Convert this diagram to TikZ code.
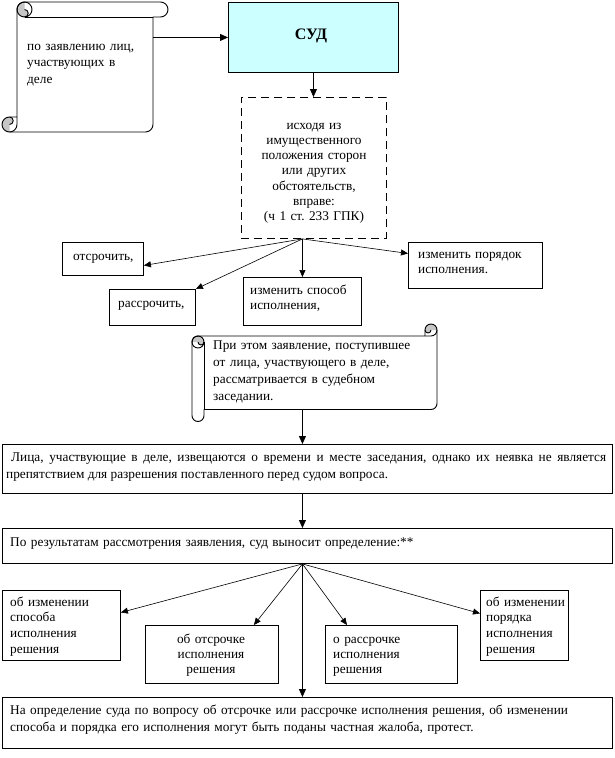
\documentclass[tikz,border=0pt]{standalone}
\usepackage{fontspec}
\setmainfont{Liberation Serif}
\usetikzlibrary{arrows.meta,calc}
\frenchspacing
\definecolor{sudfill}{HTML}{CCFFFF}
\definecolor{curlfill}{HTML}{C6C6C6}
\tikzset{
  box/.style={draw, line width=0.9pt, inner sep=0pt, anchor=north west},
  dbox/.style={draw, line width=0.9pt, dash pattern=on 8pt off 5pt, inner sep=0pt, anchor=north west},
  scrollline/.style={draw, line width=0.9pt, line join=round},
  ghost/.style={inner sep=0pt, anchor=north west},
  arr/.style={line width=0.8pt, -{Triangle[length=8pt,width=7pt]}},
  farr/.style={line width=0.6pt, -{Triangle[length=7pt,width=6pt]}},
  lt/.style={font=\fontsize{13.3}{#1}\selectfont, inner sep=0pt, align=left, anchor=base west},
  ct/.style={font=\fontsize{13.3}{#1}\selectfont, inner sep=0pt, align=center, anchor=base},
}
\newcommand{\drawscroll}[5]{%
 \pgfmathsetmacro\scL{#1}%
 \pgfmathsetmacro\scT{#2}%
 \pgfmathsetmacro\scR{#3}%
 \pgfmathsetmacro\scB{#4}%
 \pgfmathsetmacro\scC{#5}%
 \pgfmathsetmacro\scH{#5/2}%
 \pgfmathsetmacro\scQ{#5/4}%
 \pgfmathsetmacro\scXa{#1+#5+#5/2}%
 \fill[curlfill] (\scXa,\scT) arc[start angle=270,end angle=90,radius=\scH] arc[start angle=90,end angle=-90,radius=\scQ] -- cycle;
 \fill[curlfill] ({\scL+\scH},\scB) arc[start angle=90,end angle=270,radius=\scH] arc[start angle=270,end angle=450,radius=\scQ] -- cycle;
 \draw[scrollline] ({\scL+\scC},{\scB-\scC}) -- ({\scL+\scC},{\scT+\scH}) arc[start angle=180,end angle=270,radius=\scH] -- ({\scR-\scH},\scT) arc[start angle=270,end angle=450,radius=\scH] -- ({\scR-\scC},{\scT+\scC}) -- ({\scR-\scC},{\scB-\scH}) arc[start angle=0,end angle=90,radius=\scH] -- ({\scL+\scH},\scB) arc[start angle=90,end angle=270,radius=\scH] -- cycle;
 \draw[scrollline] (\scXa,{\scT+\scH}) circle[radius=\scH];
 \draw[scrollline] (\scXa,{\scT+\scC}) arc[start angle=90,end angle=-90,radius=\scQ];
 \draw[scrollline] ({\scR-\scC},{\scT+\scC}) -- (\scXa,{\scT+\scC});
 \draw[scrollline] ({\scL+\scH},\scB) arc[start angle=90,end angle=0,radius=\scH] -- ({\scL+\scC},{\scB-\scC});
 \draw[scrollline] ({\scL+\scH},{\scB-\scC}) arc[start angle=270,end angle=450,radius=\scQ];
}
\begin{document}
\begin{tikzpicture}[x=1pt,y=-1pt]
\fill[white] (0,0) rectangle (614,758);
\useasboundingbox (0,0) rectangle (614,758);

% ---- scroll 1 ----
\drawscroll{2}{2}{168}{132}{15}
\node[ghost, minimum width=136pt, minimum height=115pt] (scrollA) at (17,17) {};
\node[lt=16.5, text width=130pt] (scrollAt) at (27,50) {по заявлению лиц,\\участвующих в\\деле};

% ---- СУД ----
\node[box, fill=sudfill, minimum width=170pt, minimum height=70pt] (sud) at (228,2) {};
\node[font=\bfseries\fontsize{16}{19}\selectfont, inner sep=0pt] (sudt) at (311,36) {СУД};

% ---- dashed box ----
\node[dbox, minimum width=145pt, minimum height=141pt] (dash) at (241,97) {};
\node[ct=15.3, text width=140pt] (dasht) at (314,129) {исходя из\\имущественного\\положения сторон\\или других\\обстоятельств,\\вправе:\\(ч 1 ст. 233 ГПК)};

% ---- four options ----
\node[box, minimum width=81pt, minimum height=33pt] (otsr) at (62,242) {};
\node[lt=15, text width=75pt] (otsrt) at (73,260) {отсрочить,};
\node[box, minimum width=86pt, minimum height=36pt] (rassr) at (109,289) {};
\node[lt=15, text width=75pt] (rassrt) at (118,307) {рассрочить,};
\node[box, minimum width=118pt, minimum height=48pt] (sposob) at (243,277) {};
\node[lt=15, text width=110pt] (sposobt) at (250,294) {изменить способ\\исполнения,};
\node[box, minimum width=134pt, minimum height=46pt] (poryad) at (408,242) {};
\node[lt=15, text width=125pt] (poryadt) at (418,258) {изменить порядок\\исполнения.};

% ---- scroll 2 ----
\begin{scope}[cm={0,-1,-1,0,(0,0)}]
\drawscroll{324}{192}{421.5}{437}{12}
\end{scope}
\node[ghost, minimum width=221pt, minimum height=73pt] (scrollB) at (204,336) {};
\node[lt=17, text width=220pt] (scrollBt) at (213,349) {При этом заявление, поступившее\\от лица, участвующего в деле,\\рассматривается в судебном\\заседании.};

% ---- wide boxes ----
\node[box, minimum width=610pt, minimum height=49pt] (box1) at (2,444) {};
\node[font=\fontsize{13.3}{17}\selectfont, inner sep=0pt, align=justify, anchor=base west, text width=600pt] (box1t) at (6,461) {\hspace*{5pt}Лица, участвующие в деле, извещаются о времени и месте заседания, однако их неявка не является\linebreak препятствием для разрешения поставленного перед судом вопроса.};

\node[box, minimum width=610pt, minimum height=35pt] (box2) at (2,528) {};
\node[lt=17, text width=500pt] (box2t) at (10,546) {По результатам рассмотрения заявления, суд выносит определение:**};

% ---- results ----
\node[box, minimum width=118pt, minimum height=70pt] (bA) at (2,590) {};
\node[lt=15.7, text width=110pt] (bAt) at (10,606) {об изменении\\способа\\исполнения\\решения};
\node[box, minimum width=133pt, minimum height=58pt] (bB) at (145,625) {};
\node[ct=15, text width=125pt] (bBt) at (211,643) {об отсрочке\\исполнения\\решения};
\node[box, minimum width=132pt, minimum height=58pt] (bC) at (325,625) {};
\node[lt=15, text width=120pt] (bCt) at (333,643) {о рассрочке\\исполнения\\решения};
\node[box, minimum width=88pt, minimum height=70pt] (bD) at (480,590) {};
\node[lt=15.7, text width=85pt] (bDt) at (486,606) {об изменении\\порядка\\исполнения\\решения};

\node[box, minimum width=610pt, minimum height=51pt] (box3) at (2,697) {};
\node[lt=17, text width=600pt] (box3t) at (10,714) {На определение суда по вопросу об отсрочке или рассрочке исполнения решения, об изменении\\способа и порядка его исполнения могут быть поданы частная жалоба, протест.};

% ---- connectors ----
\coordinate (f1) at (dash.south -| sposob.north);
\coordinate (f2) at (box2.south -| sposob.north);
\draw[arr] (scrollA.east |- sud.west) -- (sud.west);
\draw[arr] (sud.south) -- (dash.north -| sud.south);
\draw[farr] (f1) -- ([yshift=-6.5pt]otsr.east);
\draw[farr] (f1) -- (rassr.north east);
\draw[farr] (f1) -- (sposob.north);
\draw[farr] (f1) -- ([yshift=12pt]poryad.west);
\draw[arr] (scrollB.south -| sposob.north) -- (box1.north -| sposob.north);
\draw[arr] (box1.south -| sposob.north) -- (box2.north -| sposob.north);
\draw[farr] (f2) -- ([yshift=13pt]bA.east);
\draw[farr] (f2) -- ([xshift=-25pt]bB.north east);
\draw[farr] (f2) -- ([xshift=22pt]bC.north west);
\draw[farr] (f2) -- ([yshift=12pt]bD.west);
\draw[arr] (f2) -- (box3.north -| f2);
\end{tikzpicture}
\end{document}
